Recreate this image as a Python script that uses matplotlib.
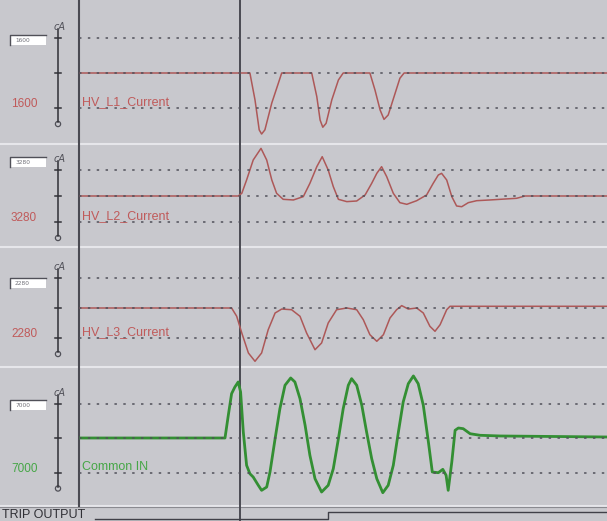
import matplotlib.pyplot as plt
from matplotlib.patches import Rectangle, Circle

# time in ms (cursor at 0), currents in A
l1_time = [-54, 3.3, 5, 6.4, 7.2, 8.3, 10.6, 12.8, 13.9,
           23.9, 25.6, 26.7, 27.6, 28.7, 30.6, 32.8, 34.4,
           43.3, 45, 46.7, 48, 49.4, 51.7, 53.3, 54.7, 123]
l1_current = [0, 0, -1230, -2600, -2790, -2600, -1370, -460, 0,
              0, -1080, -2150, -2480, -2300, -1230, -320, 0,
              0, -780, -1690, -2120, -1920, -930, -240, 0, 0]

l2_time = [-54, -0.6, 0.6, 2.2, 4.4, 7.0, 8.9, 10.6, 12.2, 14.4, 17.8, 21.1,
           23.3, 25.6, 27.4, 29.4, 31.1, 32.8, 35.6, 38.9, 41.7, 43.9, 45.6,
           47.2, 48.9, 51.1, 53.3, 55.6, 58.9, 62.2, 64.4, 66.1, 67.2, 68.9,
           70.6, 72.2, 73.9, 76.1, 78.9, 83.3, 92.2, 95, 123]
l2_current = [0, 0, 340, 2020, 4540, 6010, 4540, 2020, 340, -420, -500, -80,
              1600, 3700, 4960, 3280, 1180, -420, -710, -630, 130, 1600, 2860,
              3700, 2440, 340, -840, -1050, -590, 130, 1600, 2650, 2860, 2020,
              -80, -1260, -1350, -840, -590, -500, -290, 0, 0]

l3_time = [-54, -2.8, -1.1, 0.6, 2.8, 5.0, 7.2, 9.4, 11.7, 13.9, 17.2, 20.0,
           22.2, 25.0, 27.2, 29.4, 32.2, 35.6, 38.9, 41.1, 43.3, 45.6, 47.8,
           50.0, 52.2, 53.9, 56.1, 58.9, 61.1, 63.3, 65.0, 66.7, 68.9, 70.0, 123]
l3_current = [0, 0, -630, -1900, -3420, -4050, -3420, -1650, -380, -80, -130, -630,
              -1900, -3170, -2660, -1140, -130, 0, -130, -890, -2030, -2530, -2030,
              -760, -130, 180, -80, 0, -380, -1390, -1770, -1270, -130, 130, 130]

in_time = [-54, -5.0, -3.9, -2.8, -1.7, -0.6, 0.2, 1.1, 2.2, 3.3, 4.4, 6.1, 7.2,
           8.9, 10.0, 11.7, 13.3, 15.0, 16.9, 18.3, 20.0, 21.7, 23.3, 25.0, 27.2,
           29.4, 31.1, 32.8, 34.4, 36.1, 37.2, 38.9, 40.6, 42.2, 43.9, 45.6, 47.6,
           49.4, 51.1, 52.8, 54.4, 56.1, 57.8, 59.4, 61.1, 62.8, 64.1, 66.1, 67.6,
           68.7, 69.4, 70.6, 71.7, 72.8, 74.4, 76.7, 80.0, 86.7, 123]
in_current = [0, 0, 4600, 9000, 10350, 11370, 9340, 1220, -5540, -7250, -7920, -9600, -10620,
              -9950, -6900, -140, 5950, 10700, 12180, 11370, 7980, 2580, -3510, -8260, -10960,
              -9600, -6230, -140, 5950, 10700, 12040, 10700, 6640, 1220, -4200, -8260, -11100,
              -9600, -5540, 1220, 7310, 11020, 12590, 11020, 6640, -810, -6900, -7040, -6360,
              -7570, -10620, -4870, 1560, 2030, 1890, 870, 550, 410, 200]

trip_time = [-48.3, 29.3, 29.3, 123]
trip_state = [0, 0, 1, 1]

names = ['HV_L1_Current', 'HV_L2_Current', 'HV_L3_Current', 'Common IN']
scales = [1600, 3280, 2280, 7000]
times = [l1_time, l2_time, l3_time, in_time]
currents = [l1_current, l2_current, l3_current, in_current]

RED = '#ad5858'
RED_TXT = '#c05a5a'
GREEN = '#338f33'
GREEN_TXT = '#46a646'
BG = '#c8c8cd'
DARK = '#4a4a52'

W, H = 607, 521
X0, CURSOR_PX, PX_MS = 79, 240, 3.0
t_left = (X0 - CURSOR_PX) / PX_MS
t_right = (W - CURSOR_PX) / PX_MS

# panel layout in pixels: top, bottom, baseline, px per division, box centre
panels = [(0, 143, 73, 35, 40),
          (145, 246, 196, 26, 162),
          (248, 366, 308, 30, 283),
          (368, 505, 438, 34.5, 405)]

fig = plt.figure(figsize=(W / 100, H / 100), dpi=100)
fig.patch.set_facecolor(BG)
chrome = fig.add_axes([0, 0, 1, 1])
chrome.set_xlim(0, W)
chrome.set_ylim(H, 0)
chrome.axis('off')

for i, (top, bot, base, div, boxy) in enumerate(panels):
    green = i == 3
    col = GREEN if green else RED
    tcol = GREEN_TXT if green else RED_TXT
    sc = scales[i]

    ax = fig.add_axes([X0 / W, 1 - bot / H, (W - X0) / W, (bot - top) / H])
    ax.set_facecolor('none')
    ax.set_xlim(t_left, t_right)
    ax.set_ylim((base - bot) / div * sc, (base - top) / div * sc)
    ax.axis('off')
    ax.plot(times[i], currents[i], color=col, lw=2.0 if green else 1.1, zorder=2)
    for lvl in (-sc, 0, sc):
        ax.axhline(lvl, color='#50505a', lw=1.1, ls=(0, (1.6, 4.2)), zorder=3)
    ax.text(0.006, -sc, names[i], transform=ax.get_yaxis_transform(),
            color=tcol, fontsize=9, va='bottom', ha='left',
            family='Liberation Sans', zorder=4)

    # left scale
    t_tick, b_tick = base - div, base + div
    chrome.plot([58, 58], [t_tick - 9, b_tick + 14], color='#303036', lw=1.1)
    for yy in (t_tick, base, b_tick):
        chrome.plot([55, 61], [yy, yy], color='#303036', lw=1.1)
    chrome.add_patch(Circle((58, b_tick + 16), 2.6, fc=BG, ec='#505058', lw=0.9))
    chrome.text(60, t_tick - 11, 'cA', fontsize=7, color='#505058',
                ha='center', va='center', style='italic')
    chrome.add_patch(Rectangle((10, boxy - 5), 36, 10, fc='white', ec='none'))
    chrome.plot([10, 10, 46], [boxy + 5, boxy - 5, boxy - 5], color='#505058', lw=1)
    chrome.text(15, boxy + 0.5, str(sc), fontsize=4.2, color='#707078',
                ha='left', va='center')
    chrome.text(11, b_tick - 4, str(sc), fontsize=8.5, color=tcol,
                ha='left', va='center', family='Liberation Sans')

    # panel separator
    chrome.plot([0, W], [bot + 1, bot + 1], color='#e6e6ea', lw=1.5)

chrome.plot([0, W], [506.5, 506.5], color='#8a8a90', lw=0.8)
chrome.plot([X0, X0], [0, 506], color=DARK, lw=1.5)
chrome.plot([CURSOR_PX, CURSOR_PX], [0, H], color=DARK, lw=1.4)
chrome.text(2, 515, 'TRIP OUTPUT', fontsize=9, color='#303036',
            ha='left', va='center', family='Liberation Sans')

trip = fig.add_axes([X0 / W, 0, (W - X0) / W, 14 / H])
trip.set_facecolor('none')
trip.set_xlim(t_left, t_right)
trip.set_ylim(-0.3, 1.7)
trip.axis('off')
trip.plot(trip_time, trip_state, color='#404048', lw=1.0)

fig.savefig('out.png', dpi=100, facecolor=BG)
